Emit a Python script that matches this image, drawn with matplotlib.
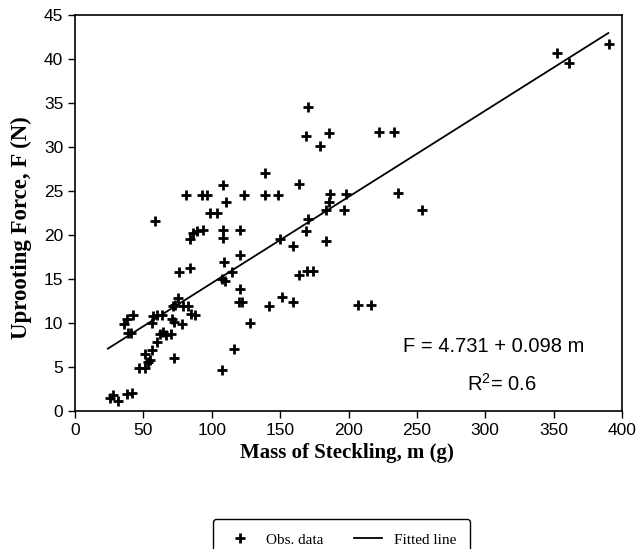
#
# uprooting.py: uprooting force vs mass of steckling, with fitted line
#
import numpy as np
import matplotlib
matplotlib.use('Agg')
import matplotlib.pyplot as plt

mass = [25.6, 28.0, 31.7, 37.8, 41.5, 36.0, 37.8, 42.2, 39.0, 41.0,
        46.5, 51.5, 53.6, 54.8, 51.0, 56.1, 59.7, 62.2, 64.6, 66.5,
        70.2, 72.2, 56.3, 57.3, 59.7, 63.4, 70.7, 72.6, 78.0, 71.5,
        73.1, 75.1, 79.0, 82.9, 84.6, 87.5, 75.8, 84.4, 58.8, 84.1,
        86.5, 89.0, 93.5, 98.7, 103.8, 110.6, 108.5, 108.5, 108.7, 107.2,
        109.5, 107.2, 114.6, 116.5, 120.5, 120.9, 120.9, 120.0, 122.0, 128.0,
        141.9, 149.6, 151.1, 159.4, 159.2, 164.0, 169.4, 174.3, 168.9, 170.4,
        183.5, 183.8, 186.0, 196.5, 207.0, 216.5, 253.5, 186.5, 198.5, 236.4,
        163.5, 170.4, 168.8, 185.7, 179.2, 222.5, 233.3, 139.2, 81.1, 93.2,
        96.5, 108.5, 123.8, 139.2, 148.7, 352.7, 361.5, 390.7]
force = [1.5, 1.8, 1.1, 1.9, 2.0, 9.9, 10.4, 10.9, 8.9, 8.9,
         4.9, 4.9, 5.6, 5.8, 6.5, 6.9, 7.8, 8.8, 9.0, 8.6,
         8.8, 6.0, 10.0, 10.8, 10.9, 10.9, 10.5, 10.1, 9.9, 11.9,
         12.0, 12.8, 11.9, 11.9, 11.0, 10.9, 15.8, 16.3, 21.6, 19.6,
         20.2, 20.5, 20.6, 22.5, 22.5, 23.7, 20.6, 19.7, 16.9, 15.0,
         14.8, 4.7, 15.8, 7.0, 20.6, 17.7, 13.9, 12.4, 12.4, 10.0,
         11.9, 19.6, 13.0, 12.4, 18.8, 15.4, 15.9, 15.9, 20.4, 21.8,
         19.3, 22.8, 23.8, 22.8, 12.0, 12.0, 22.8, 24.7, 24.7, 24.8,
         25.8, 34.6, 31.2, 31.6, 30.1, 31.7, 31.7, 27.1, 24.6, 24.6,
         24.6, 25.7, 24.6, 24.6, 24.6, 40.7, 39.6, 41.7]

# fitted line F = a + b m
a = 4.731
b = 0.098
m_fit = np.array([24, 390])
f_fit = a + b * m_fit

plt.rcParams['mathtext.fontset'] = 'custom'
plt.rcParams['mathtext.rm'] = 'Liberation Sans'

fig = plt.figure(figsize=(6.36, 5.49), dpi=100)
ax = fig.add_axes([0.118, 0.2514, 0.86, 0.7213])

ax.plot(mass, force, linestyle='none', marker='+', markersize=7.5,
        markeredgewidth=2.0, color='black', label='Obs. data')
ax.plot(m_fit, f_fit, color='black', linewidth=1.3, label='Fitted line')

ax.set_xlim(0, 400)
ax.set_ylim(0, 45)
ax.set_xticks(range(0, 401, 50))
ax.set_yticks(range(0, 46, 5))
ax.tick_params(direction='out', length=5, width=1, labelsize=12.5)
for lab in ax.get_xticklabels() + ax.get_yticklabels():
    lab.set_family('Liberation Sans')
for s in ax.spines.values():
    s.set_linewidth(1.2)

ax.set_xlabel('Mass of Steckling, m (g)', family='Liberation Serif',
              fontweight='bold', fontsize=15)
ax.set_ylabel('Uprooting Force, F (N)', family='Liberation Serif',
              fontweight='bold', fontsize=16.5)
ax.xaxis.set_label_coords(0.498, -0.08)
ax.yaxis.set_label_coords(-0.079, 0.463)

ax.text(240, 7.3, 'F = 4.731 + 0.098 m', family='Liberation Sans',
        fontsize=14.5, va='center')
ax.text(287, 3.1, r'R$^\mathregular{2}$= 0.6', family='Liberation Sans',
        fontsize=14.5, va='center')

fig.legend(loc='upper center', bbox_to_anchor=(0.537, 0.068), ncol=2,
           prop={'family': 'Liberation Serif', 'size': 11},
           fancybox=True, edgecolor='black', framealpha=1,
           handlelength=1.8, borderpad=0.9, columnspacing=2.0)

plt.savefig('out.png', dpi=100)
